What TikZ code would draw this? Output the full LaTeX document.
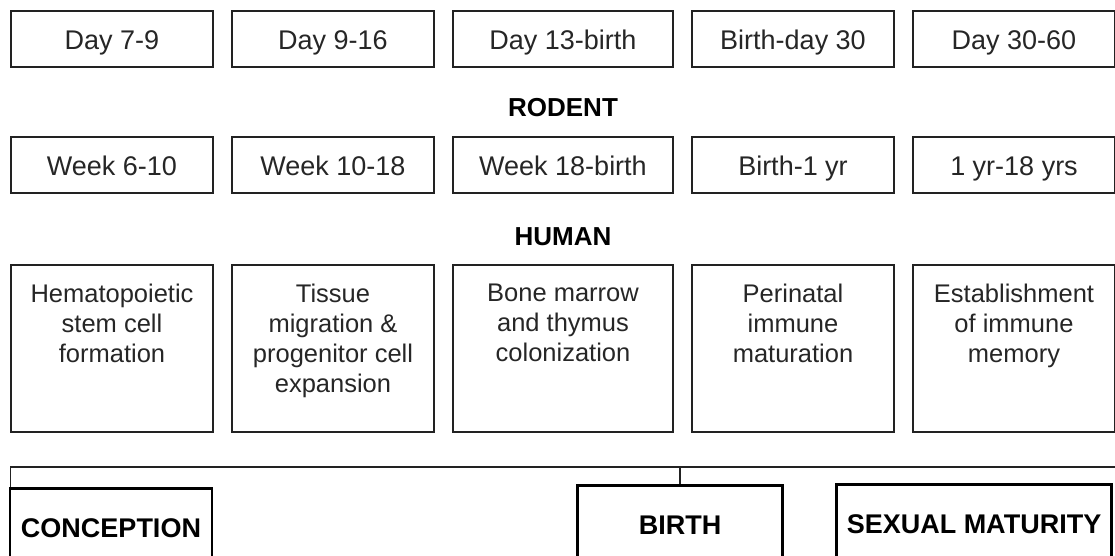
\documentclass[tikz,border=0pt]{standalone}
\usepackage{fontspec}
\setmainfont{Liberation Sans}
\usetikzlibrary{positioning}
\definecolor{inkgrey}{HTML}{222222}
\tikzset{
  ageb/.style ={rectangle, draw=inkgrey, line width=1.3pt, fill=white, text=black!85,
                font=\fontsize{27}{31}\selectfont, minimum width=202pt,
                minimum height=56pt, text height=24pt, text depth=3pt,
                inner sep=0pt, outer sep=0pt},
  hbox/.style ={rectangle, draw=inkgrey, line width=1.3pt, minimum width=202pt,
                minimum height=167pt, inner sep=0pt, outer sep=0pt},
  htxt/.style ={align=center, font=\fontsize{25.5}{30}\selectfont, text=black!85,
                inner sep=0pt, outer sep=0pt},
  lbl/.style  ={font=\fontsize{26}{30}\selectfont\bfseries, text=black},
  mile/.style ={rectangle, draw=black, line width=2.6pt, anchor=north,
                font=\fontsize{27}{30}\selectfont\bfseries, minimum height=80pt,
                inner sep=0pt},
  tl/.style   ={draw=inkgrey, line width=1.5pt}
}

\begin{document}
\begin{tikzpicture}[x=1pt, y=1pt, node distance=19pt]
  \useasboundingbox (0,0) rectangle (1115,-556);
  \clip (0,0) rectangle (1115,-556);

  % rodent
  \node[ageb, anchor=north west] (r1) at (11,-11) {Day 7-9};
  \node[ageb, right=of r1] (r2) {Day 9-16};
  \node[ageb, right=of r2, minimum width=220pt] (r3) {Day 13-birth};
  \node[ageb, right=of r3] (r4) {Birth-day 30};
  \node[ageb, right=of r4] (r5) {Day 30-60};
  \node[lbl] (rod) at (563,-108) {RODENT};

  % human
  \node[ageb, anchor=north west] (w1) at (11,-137) {Week 6-10};
  \node[ageb, right=of w1] (w2) {Week 10-18};
  \node[ageb, right=of w2, minimum width=220pt] (w3) {Week 18-birth};
  \node[ageb, right=of w3] (w4) {Birth-1 yr};
  \node[ageb, right=of w4] (w5) {1 yr-18 yrs};
  \node[lbl] (hum) at (563,-237) {HUMAN};

  % stages
  \node[hbox, anchor=north west] (h1) at (11,-265) {};
  \node[hbox, right=of h1] (h2) {};
  \node[hbox, right=of h2, minimum width=220pt] (h3) {};
  \node[hbox, right=of h3] (h4) {};
  \node[hbox, right=of h4] (h5) {};
  \node[htxt, below=19pt of h1.north] (h1t) {Hematopoietic\\stem cell\\formation};
  \node[htxt, below=19pt of h2.north] (h2t) {Tissue\\migration \&\\progenitor cell\\expansion};
  \node[htxt, below=19pt of h3.north] (h3t) {Bone marrow\\and thymus\\colonization};
  \node[htxt, below=19pt of h4.north] (h4t) {Perinatal\\immune\\maturation};
  \node[htxt, below=19pt of h5.north] (h5t) {Establishment\\of immune\\memory};

  % time line
  \coordinate (tr) at (1115,-467);
  \node[mile, minimum width=202pt] (con) at (111,-487) {CONCEPTION};
  \node[mile, minimum width=205pt] (bir) at (680,-484) {BIRTH};
  \node[mile, minimum width=275pt] (sex) at (974,-483) {SEXUAL MATURITY};
  \draw[tl] ([xshift=2pt]con.north west) |- (tr);
  \draw[tl] (bir.north) -- (bir.north |- tr);
\end{tikzpicture}
\end{document}
